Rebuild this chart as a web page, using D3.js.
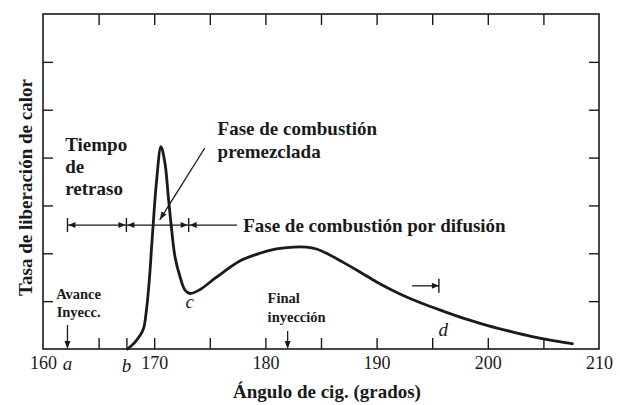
<!DOCTYPE html>
<html>
<head>
<meta charset="utf-8">
<script src="https://cdn.jsdelivr.net/npm/d3@7"></script>
<style>
  html, body { margin: 0; padding: 0; background: #fff; }
  svg { display: block; }
  text { font-family: "Liberation Serif", "DejaVu Serif", serif; fill: #1a1a1a; }
</style>
</head>
<body>
<svg id="chart" width="620" height="405"></svg>
<script>
// ---------------- data ----------------
const crankAngle = [167.6, 168.3, 169.0, 169.3, 169.56, 169.77, 169.98, 170.22, 170.61, 170.97, 171.27, 171.57, 171.87, 172.32, 172.77, 173.22, 174.1, 175.6, 177.7, 179.5, 181.0, 182.5, 183.7, 184.6, 185.5, 187.0, 188.5, 190.0, 192.0, 194.0, 196.0, 198.0, 200.0, 202.0, 204.0, 206.0, 207.6];
const heatRelease = [0.0, 0.15, 0.40, 0.81, 1.44, 2.14, 2.84, 3.53, 4.23, 3.88, 3.18, 2.49, 1.93, 1.51, 1.23, 1.16, 1.24, 1.50, 1.84, 2.00, 2.09, 2.13, 2.13, 2.09, 2.00, 1.81, 1.61, 1.40, 1.16, 0.96, 0.79, 0.63, 0.49, 0.37, 0.26, 0.17, 0.11];
const xTickLabels = [160, 170, 180, 190, 200, 210];
const xMinorTicks = [165, 170, 175, 180, 185, 190, 195, 200, 205];
const xMarkerTicks = [167.5];
const yTicks = [1, 2, 3, 4, 5, 6];
const yAxisTitle = "Tasa de liberación de calor";
const xAxisTitle = "Ángulo de cig. (grados)";

// points of interest (data units)
const pointA = 162.2;   // avance inyección
const pointB = 167.5;   // inicio combustión
const pointC = 173.2;   // mínimo
const pointEnd = 182.0; // final inyección

// ---------------- layout ----------------
const W = 620, H = 405;
const M = { left: 43, right: 21, top: 14, bottom: 56 };
const svg = d3.select("#chart");
svg.append("rect").attr("width", W).attr("height", H).attr("fill", "#fff");

const x = d3.scaleLinear().domain([160, 210]).range([M.left, W - M.right]);
const y = d3.scaleLinear().domain([0, 7]).range([H - M.bottom, M.top]);
const x0 = x.range()[0], x1 = x.range()[1], y0 = y.range()[0], y1 = y.range()[1];
const ink = "#1a1a1a";

// frame
svg.append("rect").attr("x", x0).attr("y", y1).attr("width", x1 - x0).attr("height", y0 - y1)
  .attr("fill", "none").attr("stroke", ink).attr("stroke-width", 1.6);

function styleAxis(g) {
  g.select(".domain").remove();
  g.selectAll(".tick line").attr("stroke", ink).attr("stroke-width", 1.4);
}
// ticks
svg.append("g").attr("transform", `translate(0,${y0})`)
  .call(d3.axisBottom(x).tickValues(xMinorTicks.concat(xMarkerTicks)).tickSizeInner(-11).tickSizeOuter(0).tickFormat(""))
  .call(styleAxis);
svg.append("g").attr("transform", `translate(0,${y1})`)
  .call(d3.axisTop(x).tickValues(xMinorTicks).tickSizeInner(-11).tickSizeOuter(0).tickFormat(""))
  .call(styleAxis);
svg.append("g").attr("transform", `translate(${x0},0)`)
  .call(d3.axisLeft(y).tickValues(yTicks).tickSizeInner(-10).tickSizeOuter(0).tickFormat(""))
  .call(styleAxis);
svg.append("g").attr("transform", `translate(${x1},0)`)
  .call(d3.axisRight(y).tickValues(yTicks).tickSizeInner(-10).tickSizeOuter(0).tickFormat(""))
  .call(styleAxis);
// tick labels
const xl = svg.append("g").attr("transform", `translate(0,${y0})`)
  .call(d3.axisBottom(x).tickValues(xTickLabels).tickSize(0).tickPadding(7).tickFormat(d3.format("d")));
xl.select(".domain").remove();
xl.selectAll("text").attr("font-family", "Liberation Serif").attr("font-size", 18).attr("fill", ink);

// axis titles
svg.append("text").attr("x", (x0 + x1) / 2 + 6).attr("y", 398).attr("text-anchor", "middle")
  .attr("font-size", 19).attr("font-weight", "bold").text(xAxisTitle);
svg.append("text").attr("transform", `translate(32,${(y0 + y1) / 2 + 6}) rotate(-90)`)
  .attr("text-anchor", "middle").attr("font-size", 19).attr("font-weight", "bold").text(yAxisTitle);

// curve
const line = d3.line().x((d, i) => x(crankAngle[i])).y(d => y(d)).curve(d3.curveCatmullRom.alpha(0.5));
svg.append("path").datum(heatRelease).attr("d", line)
  .attr("fill", "none").attr("stroke", ink).attr("stroke-width", 2.8).attr("stroke-linejoin", "round").attr("stroke-linecap", "round");

// ---------------- annotations ----------------
function arrowHead(px, py, dir, len = 7, hw = 3) {
  const bx = px - len * Math.cos(dir), by = py - len * Math.sin(dir);
  const nx = -Math.sin(dir) * hw, ny = Math.cos(dir) * hw;
  svg.append("path").attr("d", `M${px},${py}L${bx + nx},${by + ny}L${bx - nx},${by - ny}Z`).attr("fill", ink);
}
function seg(xa, ya, xb, yb, w = 1.3) {
  svg.append("line").attr("x1", xa).attr("y1", ya).attr("x2", xb).attr("y2", yb)
    .attr("stroke", ink).attr("stroke-width", w);
}
function label(tx, ty, str, size, opts = {}) {
  const t = svg.append("text").attr("x", tx).attr("y", ty).attr("font-size", size)
    .attr("font-weight", opts.italic ? "normal" : "bold")
    .attr("text-anchor", opts.anchor || "start").text(str);
  if (opts.italic) t.attr("font-style", "italic");
  return t;
}

// phase line
const phaseY = y(2.59);
const barH = 7;
const phaseStops = [pointA, pointB, 173.1];
seg(x(pointA), phaseY, x(177.45), phaseY, 1.3);
phaseStops.forEach((s, i) => {
  const px = x(s);
  seg(px, phaseY - barH, px, phaseY + barH, 1.4);
  arrowHead(px + 1, phaseY, Math.PI);
  if (i > 0) arrowHead(px - 1, phaseY, 0);
});
label(x(178.0), phaseY + 6.5, "Fase de combustión por difusión", 19);

// premixed phase pointer
const pA = [x(174.55), y(4.20)], pB = [x(170.5), y(2.70)];
seg(pA[0], pA[1], pB[0], pB[1], 1.3);
arrowHead(pB[0], pB[1], Math.atan2(pB[1] - pA[1], pB[0] - pA[0]), 8, 3);
label(x(175.7), 135, "Fase de combustión", 19);
label(x(175.7), 158, "premezclada", 19);

// delay label
label(x(162.0), 151, "Tiempo", 19);
label(x(162.0), 173, "de", 19);
label(x(162.0), 195, "retraso", 19);

// injection start
label(x(163.2), 299, "Avance", 14.5, { anchor: "middle" });
label(x(163.2), 317, "Inyecc.", 14.5, { anchor: "middle" });
seg(x(pointA), 325, x(pointA), y0 - 2, 1.3);
arrowHead(x(pointA), y0, Math.PI / 2, 8, 3);

// injection end
label(x(180.2), 303, "Final", 14.5);
label(x(180.2), 322, "inyección", 14.5);
seg(x(pointEnd), 331, x(pointEnd), y0 - 2, 1.3);
arrowHead(x(pointEnd), y0, Math.PI / 2, 8, 3);

// small arrow near d
const sY = y(1.32);
seg(x(193.2), sY, x(195.6), sY, 1.3);
arrowHead(x(195.6), sY, 0, 7, 3);
seg(x(195.6), sY - 7, x(195.6), sY + 7, 1.4);

// letters
label(x(pointA), 370, "a", 19, { italic: true, anchor: "middle" });
label(x(pointB), 372, "b", 19, { italic: true, anchor: "middle" });
label(x(pointC), 308, "c", 19, { italic: true, anchor: "middle" });
label(x(196.0), 336, "d", 19, { italic: true, anchor: "middle" });
</script>
</body>
</html>
